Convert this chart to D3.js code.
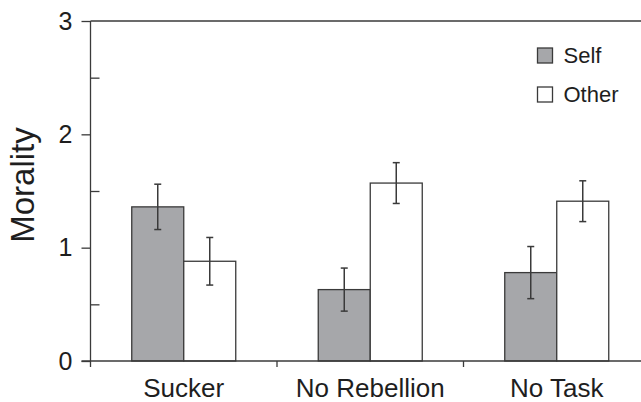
<!DOCTYPE html>
<html>
<head>
<meta charset="utf-8">
<script src="https://cdn.jsdelivr.net/npm/d3@7"></script>
<style>
  html, body { margin: 0; padding: 0; background: #fff; }
  svg { display: block; font-family: "Liberation Sans", Arial, Helvetica, sans-serif; }
</style>
</head>
<body>
<svg id="chart" width="641" height="402"></svg>
<script>
const categories = ["Sucker", "No Rebellion", "No Task"];
const seriesNames = ["Self", "Other"];
const selfValues = [1.36, 0.63, 0.78];
const otherValues = [0.88, 1.57, 1.41];
const selfErrors = [0.20, 0.19, 0.23];
const otherErrors = [0.21, 0.18, 0.18];
const yTicks = [0, 1, 2, 3];
const yMinorTicks = [0.5, 1.5, 2.5];
const yLabel = "Morality";

const colors = { Self: "#a6a7aa", Other: "#ffffff" };
const lineColor = "#3a3a3a";
const textColor = "#1e1e1e";

const svg = d3.select("#chart");
const axisX = 90.5;
const plotRight = 650;

const y = d3.scaleLinear().domain([0, 3]).range([361, 21]);
const x = d3.scaleBand().domain(categories).range([axisX, plotRight]).padding(0);
const barW = 52;
const sub = d3.scaleBand().domain(seriesNames).range([-barW, barW]).padding(0);

const data = categories.map((c, i) => ({
  cat: c,
  items: [
    { s: "Self", v: selfValues[i], e: selfErrors[i] },
    { s: "Other", v: otherValues[i], e: otherErrors[i] }
  ]
}));

// Bars
const g = svg.append("g");
const groups = g.selectAll("g.grp").data(data).enter().append("g")
  .attr("transform", d => `translate(${x(d.cat) + x.bandwidth() / 2},0)`);

groups.selectAll("rect").data(d => d.items).enter().append("rect")
  .attr("x", d => sub(d.s))
  .attr("y", d => y(d.v))
  .attr("width", sub.bandwidth())
  .attr("height", d => y(0) - y(d.v))
  .attr("fill", d => colors[d.s])
  .attr("stroke", lineColor)
  .attr("stroke-width", 1.3);

// Error bars
const capW = 7;
groups.selectAll("g.err").data(d => d.items).enter().append("g")
  .each(function(d) {
    const cx = sub(d.s) + sub.bandwidth() / 2;
    const sel = d3.select(this);
    sel.append("line").attr("x1", cx).attr("x2", cx)
      .attr("y1", y(d.v + d.e)).attr("y2", y(d.v - d.e))
      .attr("stroke", lineColor).attr("stroke-width", 1.5);
    [d.v + d.e, d.v - d.e].forEach(val => {
      sel.append("line").attr("x1", cx - capW / 2).attr("x2", cx + capW / 2)
        .attr("y1", y(val)).attr("y2", y(val))
        .attr("stroke", lineColor).attr("stroke-width", 1.5);
    });
  });

// Y axis (major ticks outward, labels)
const yAxis = d3.axisLeft(y).tickValues(yTicks).tickFormat(d3.format("d"))
  .tickSize(9).tickPadding(9);
const ya = svg.append("g").attr("transform", `translate(${axisX},0)`).call(yAxis);
ya.select(".domain").remove();
ya.selectAll(".tick line").attr("stroke", lineColor).attr("stroke-width", 1.3);
ya.selectAll(".tick text").attr("fill", textColor).style("font-size", "25px")
  .style("font-family", '"Liberation Sans", Arial, sans-serif');

// Minor ticks inward
const yMinor = d3.axisRight(y).tickValues(yMinorTicks).tickFormat("").tickSize(9);
const ym = svg.append("g").attr("transform", `translate(${axisX},0)`).call(yMinor);
ym.select(".domain").remove();
ym.selectAll(".tick line").attr("stroke", lineColor).attr("stroke-width", 1.3);

// Y axis line
svg.append("line").attr("x1", axisX).attr("x2", axisX)
  .attr("y1", y(3)).attr("y2", y(0) + 6)
  .attr("stroke", lineColor).attr("stroke-width", 1.3);

// Top line
svg.append("line").attr("x1", axisX).attr("x2", 641)
  .attr("y1", y(3)).attr("y2", y(3))
  .attr("stroke", lineColor).attr("stroke-width", 1.3);

// X axis
svg.append("line").attr("x1", axisX - 9).attr("x2", 641)
  .attr("y1", y(0)).attr("y2", y(0))
  .attr("stroke", lineColor).attr("stroke-width", 1.3);

// Category separators
svg.selectAll("line.sep").data(categories.slice(1)).enter().append("line")
  .attr("x1", d => x(d)).attr("x2", d => x(d))
  .attr("y1", y(0)).attr("y2", y(0) + 6)
  .attr("stroke", lineColor).attr("stroke-width", 1.3);

// Category labels
svg.selectAll("text.cat").data(categories).enter().append("text")
  .attr("x", d => x(d) + x.bandwidth() / 2)
  .attr("y", 397)
  .attr("text-anchor", "middle")
  .attr("fill", textColor)
  .style("font-size", "26px")
  .text(d => d);

// Y label
svg.append("text")
  .attr("transform", `translate(34,185) rotate(-90)`)
  .attr("text-anchor", "middle")
  .attr("fill", textColor)
  .style("font-size", "33px")
  .text(yLabel);

// Legend
const legendY = [48, 87];
const leg = svg.selectAll("g.leg").data(seriesNames).enter().append("g")
  .attr("transform", (d, i) => `translate(537.5,${legendY[i]})`);
leg.append("rect").attr("width", 15).attr("height", 15)
  .attr("fill", d => colors[d]).attr("stroke", lineColor).attr("stroke-width", 1.3);
leg.append("text").attr("x", 26).attr("y", 15)
  .attr("fill", textColor).style("font-size", "22px")
  .text(d => d);
</script>
</body>
</html>
